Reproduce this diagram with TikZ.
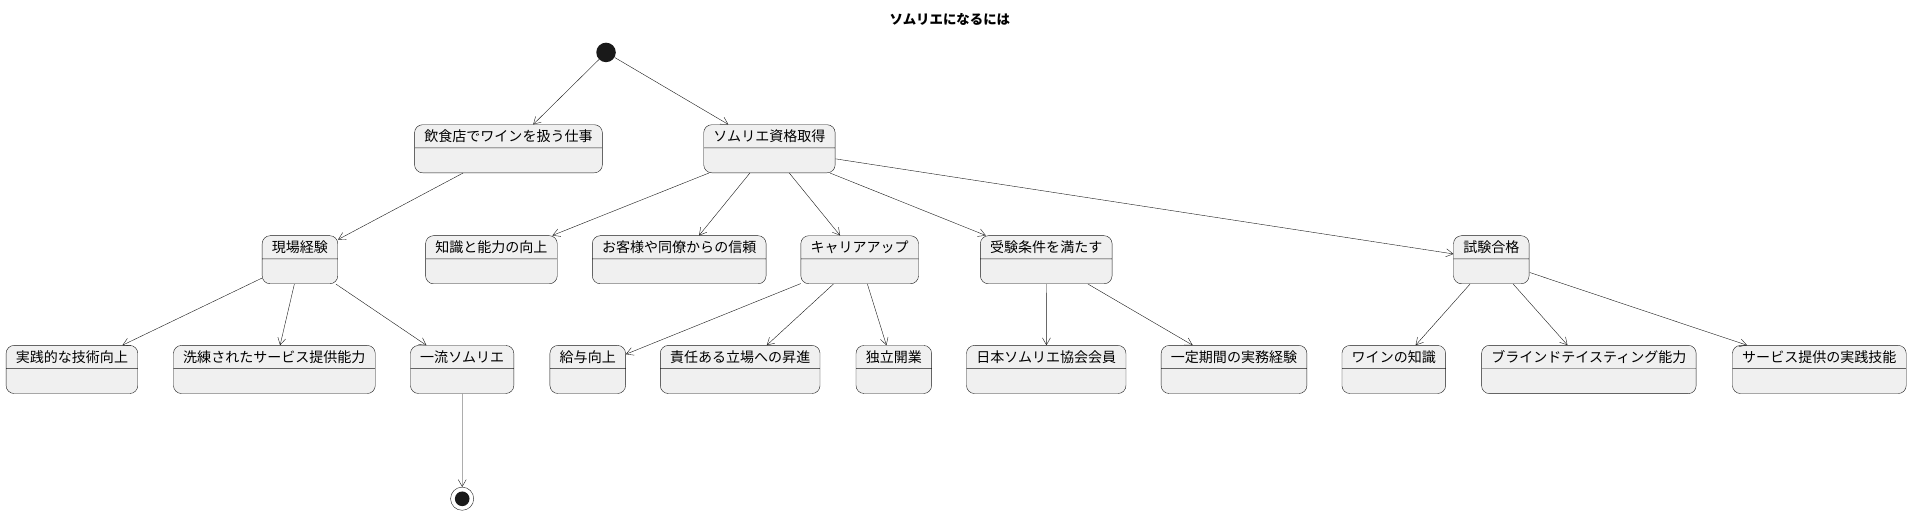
\documentclass[tikz,border=0pt]{standalone}
\usepackage{fontspec}
\setmainfont{Noto Sans CJK JP}
\usetikzlibrary{shapes.multipart,arrows.meta}

\tikzset{
    st/.style={rectangle split, rectangle split parts=2, draw=black!90,
        fill=black!6, rounded corners=8pt, inner xsep=8pt, inner ysep=4pt,
        rectangle split empty part height=12pt,
        font=\fontsize{11.5}{13}\selectfont},
    tr/.style={-{Straight Barb[length=7pt,width=8pt]}, black!90}
}

\begin{document}
\begin{tikzpicture}[x=1pt,y=1pt,scale=1.2194,every node/.append style={transform shape}]
    \fill[white] (0,0) rectangle (1568,-393.6);
    \node[font=\fontsize{11}{13}\selectfont\bfseries] (title) at (779,-16) {ソムリエになるには};
    \node[circle,fill=black!90,minimum size=16pt,inner sep=0] (start) at (497,-43) {};

    % second level
    \node[st] (inshoku) at (417,-122) {飲食店でワインを扱う仕事};
    \node[st] (shikaku) at (631,-122) {ソムリエ資格取得};
    % third level
    \foreach \x/\n/\t in {246/genba/現場経験, 403/chishiki/知識と能力の向上,
        557/shinrai/お客様や同僚からの信頼, 705/career/キャリアアップ,
        858/jouken/受験条件を満たす, 1223/goukaku/試験合格}
        \node[st] (\n) at (\x,-213) {\t};
    % leaves
    \foreach \x/\n/\t in {59/jissen/実践的な技術向上, 225/senren/洗練されたサービス提供能力,
        379/ichiryu/一流ソムリエ, 482/kyuyo/給与向上, 607/shoushin/責任ある立場への昇進,
        733/dokuritsu/独立開業, 858/kyoukai/日本ソムリエ協会会員,
        1012/jitsumu/一定期間の実務経験, 1143/wine/ワインの知識,
        1303/blind/ブラインドテイスティング能力, 1492/service/サービス提供の実践技能}
        \node[st] (\n) at (\x,-303) {\t};

    \node[circle,draw=black!90,minimum size=19pt,inner sep=0] (end) at (379,-409) {};
    \node[circle,fill=black!90,minimum size=12pt,inner sep=0] at (end) {};

    % transitions
    \draw[tr] (start) -- (inshoku);
    \draw[tr] (start) -- (shikaku);
    \draw[tr] (inshoku) -- (genba);
    \foreach \b in {chishiki,shinrai,career,jouken,goukaku}
        \draw[tr] (shikaku) -- (\b);
    \foreach \b in {jissen,senren,ichiryu}
        \draw[tr] (genba) -- (\b);
    \foreach \b in {kyuyo,shoushin,dokuritsu}
        \draw[tr] (career) -- (\b);
    \foreach \b in {kyoukai,jitsumu}
        \draw[tr] (jouken) -- (\b);
    \foreach \b in {wine,blind,service}
        \draw[tr] (goukaku) -- (\b);
    \draw[tr] (ichiryu) -- (end);
\end{tikzpicture}
\end{document}
